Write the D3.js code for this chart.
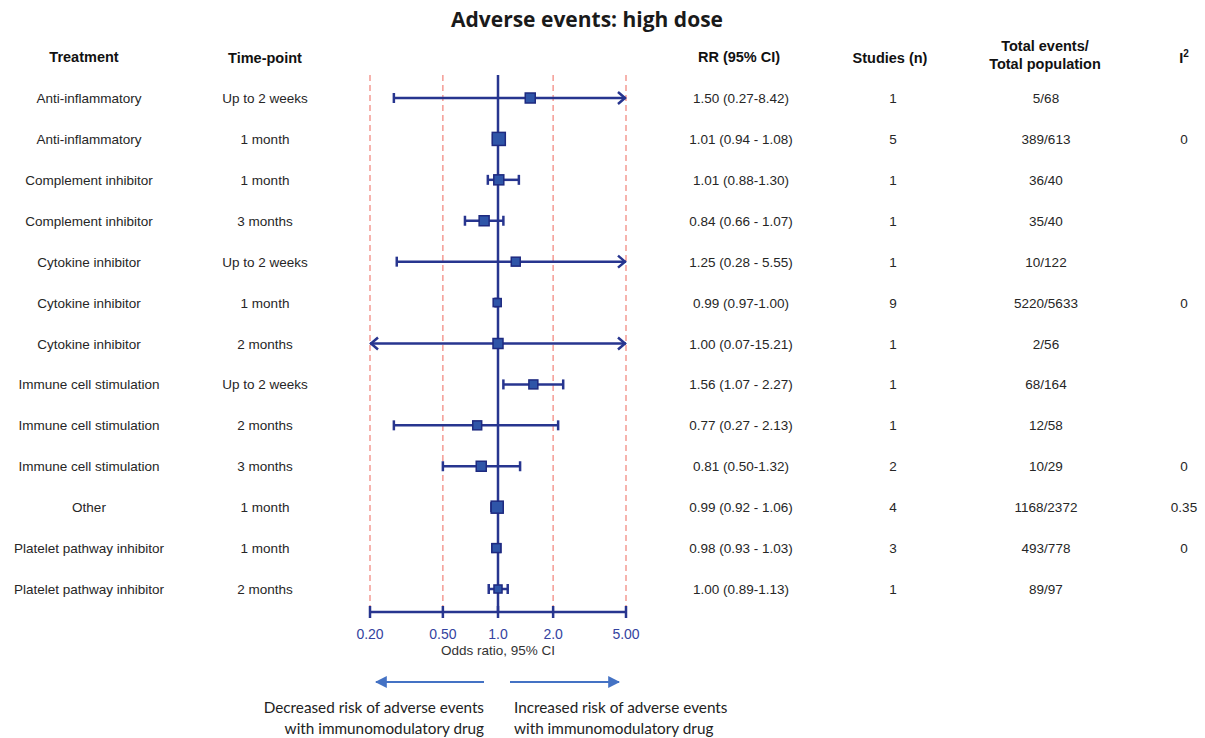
<!DOCTYPE html>
<html>
<head>
<meta charset="utf-8">
<script src="https://cdn.jsdelivr.net/npm/d3@7"></script>
<style>
  html, body { margin: 0; padding: 0; background: #fff; }
  svg { display: block; }
  .sans { font-family: Arial, "Liberation Sans", Helvetica, sans-serif; }
</style>
</head>
<body>
<svg id="chart" width="1205" height="738"></svg>
<script>
// Forest plot: adverse events, high dose
const treatments = [
  "Anti-inflammatory", "Anti-inflammatory", "Complement inhibitor", "Complement inhibitor",
  "Cytokine inhibitor", "Cytokine inhibitor", "Cytokine inhibitor",
  "Immune cell stimulation", "Immune cell stimulation", "Immune cell stimulation",
  "Other", "Platelet pathway inhibitor", "Platelet pathway inhibitor"
];
const timepoints = [
  "Up to 2 weeks", "1 month", "1 month", "3 months", "Up to 2 weeks", "1 month", "2 months",
  "Up to 2 weeks", "2 months", "3 months", "1 month", "1 month", "2 months"
];
const rr    = [1.50, 1.01, 1.01, 0.84, 1.25, 0.99, 1.00, 1.56, 0.77, 0.81, 0.99, 0.98, 1.00];
const lower = [0.27, 0.94, 0.88, 0.66, 0.28, 0.97, 0.07, 1.07, 0.27, 0.50, 0.92, 0.93, 0.89];
const upper = [8.42, 1.08, 1.30, 1.07, 5.55, 1.00, 15.21, 2.27, 2.13, 1.32, 1.06, 1.03, 1.13];
const rrLabels = [
  "1.50 (0.27-8.42)", "1.01 (0.94 - 1.08)", "1.01 (0.88-1.30)", "0.84 (0.66 - 1.07)",
  "1.25 (0.28 - 5.55)", "0.99 (0.97-1.00)", "1.00 (0.07-15.21)", "1.56 (1.07 - 2.27)",
  "0.77 (0.27 - 2.13)", "0.81 (0.50-1.32)", "0.99 (0.92 - 1.06)", "0.98 (0.93 - 1.03)",
  "1.00 (0.89-1.13)"
];
const studies = ["1", "5", "1", "1", "1", "9", "1", "1", "1", "2", "4", "3", "1"];
const totals = ["5/68", "389/613", "36/40", "35/40", "10/122", "5220/5633", "2/56",
  "68/164", "12/58", "10/29", "1168/2372", "493/778", "89/97"];
const iSquared = ["", "0", "", "", "", "0", "", "", "", "0", "0.35", "0", ""];
// relative pooled weight of each estimate (sets marker area)
const weights = [1.0, 1.7, 1.0, 1.0, 0.8, 0.65, 1.0, 0.8, 0.8, 1.0, 1.45, 0.8, 0.65];
const tickValues = [0.2, 0.5, 1.0, 2.0, 5.0];
const tickLabels = ["0.20", "0.50", "1.0", "2.0", "5.00"];

const svg = d3.select("#chart");
const navy = "#27358f";
const markFill = "#2f55a8";
const textCol = "#262626";

const x = d3.scaleLog().domain([0.2, 5]).range([370, 626]);
const y = d3.scalePoint().domain(d3.range(rr.length)).range([98, 589]);
const size = d3.scaleSqrt().domain([0, 1]).range([0, 10]);
const plotTop = 75, axisY = 612;

// Title
svg.append("text")
  .attr("x", 587).attr("y", 27)
  .attr("text-anchor", "middle")
  .style("font-family", "'Open Sans', sans-serif")
  .style("font-weight", "700").style("font-size", "21px")
  .attr("fill", "#1a1a1a")
  .text("Adverse events: high dose");

// Column headers
const headers = [
  { t: "Treatment", x: 84, y: 62 },
  { t: "Time-point", x: 265, y: 63 },
  { t: "RR (95% CI)", x: 739, y: 62 },
  { t: "Studies (n)", x: 890, y: 63 },
  { t: "Total events/", x: 1045, y: 51 },
  { t: "Total population", x: 1045, y: 69 }
];
svg.append("g").selectAll("text").data(headers).join("text")
  .attr("class", "sans")
  .attr("x", d => d.x).attr("y", d => d.y)
  .attr("text-anchor", "middle")
  .style("font-weight", "700").style("font-size", "14.5px")
  .attr("fill", "#111")
  .text(d => d.t);
const i2 = svg.append("text")
  .attr("class", "sans")
  .attr("x", 1184).attr("y", 63)
  .attr("text-anchor", "middle")
  .style("font-weight", "700").style("font-size", "14.5px")
  .attr("fill", "#111");
i2.append("tspan").text("I");
i2.append("tspan").attr("dy", -6).style("font-size", "10px").text("2");

// Table columns
const cols = [
  { vals: treatments, x: 89 },
  { vals: timepoints, x: 265 },
  { vals: rrLabels, x: 741 },
  { vals: studies, x: 893 },
  { vals: totals, x: 1046 },
  { vals: iSquared, x: 1184 }
];
cols.forEach(c => {
  svg.append("g").selectAll("text").data(c.vals).join("text")
    .attr("class", "sans")
    .attr("x", c.x).attr("y", (d, i) => y(i) + 5)
    .attr("text-anchor", "middle")
    .style("font-size", "13.5px")
    .attr("fill", textCol)
    .text(d => d);
});

// Dashed reference lines
svg.append("g").selectAll("line").data(tickValues.filter(v => v !== 1)).join("line")
  .attr("x1", d => x(d)).attr("x2", d => x(d))
  .attr("y1", plotTop).attr("y2", axisY)
  .attr("stroke", "#f28b82").attr("stroke-width", 1.3)
  .attr("stroke-dasharray", "6,4");

// Line of no effect
svg.append("line")
  .attr("x1", x(1)).attr("x2", x(1))
  .attr("y1", plotTop).attr("y2", axisY)
  .attr("stroke", navy).attr("stroke-width", 2.5);

// Axis
const axis = svg.append("g");
axis.append("line")
  .attr("x1", x(0.2)).attr("x2", x(5))
  .attr("y1", axisY).attr("y2", axisY)
  .attr("stroke", navy).attr("stroke-width", 2.5);
axis.selectAll("line.tick").data(tickValues).join("line")
  .attr("class", "tick")
  .attr("x1", d => x(d)).attr("x2", d => x(d))
  .attr("y1", axisY - 6).attr("y2", axisY + 6)
  .attr("stroke", navy).attr("stroke-width", 2.5);
axis.selectAll("text").data(tickValues).join("text")
  .attr("class", "sans")
  .attr("x", d => x(d)).attr("y", 639)
  .attr("text-anchor", "middle")
  .style("font-size", "14px")
  .attr("fill", "#3443a0")
  .text((d, i) => tickLabels[i]);
svg.append("text")
  .attr("class", "sans")
  .attr("x", x(1)).attr("y", 655)
  .attr("text-anchor", "middle")
  .style("font-size", "13.5px")
  .attr("fill", "#333")
  .text("Odds ratio, 95% CI");

// Confidence intervals
const lo = x.domain()[0], hi = x.domain()[1];
const ci = svg.append("g");
rr.forEach((v, i) => {
  const yy = y(i);
  const l = Math.max(lower[i], lo), u = Math.min(upper[i], hi);
  ci.append("line")
    .attr("x1", x(l)).attr("x2", x(u))
    .attr("y1", yy).attr("y2", yy)
    .attr("stroke", navy).attr("stroke-width", 2.5);
  // left end
  if (lower[i] < lo) {
    ci.append("path")
      .attr("d", `M${x(lo) + 8},${yy - 6} L${x(lo) + 1},${yy} L${x(lo) + 8},${yy + 6}`)
      .attr("fill", "none").attr("stroke", navy).attr("stroke-width", 2.5);
  } else {
    ci.append("line")
      .attr("x1", x(l)).attr("x2", x(l)).attr("y1", yy - 5).attr("y2", yy + 5)
      .attr("stroke", navy).attr("stroke-width", 2.5);
  }
  // right end
  if (upper[i] > hi) {
    ci.append("path")
      .attr("d", `M${x(hi) - 8},${yy - 6} L${x(hi) - 1},${yy} L${x(hi) - 8},${yy + 6}`)
      .attr("fill", "none").attr("stroke", navy).attr("stroke-width", 2.5);
  } else {
    ci.append("line")
      .attr("x1", x(u)).attr("x2", x(u)).attr("y1", yy - 5).attr("y2", yy + 5)
      .attr("stroke", navy).attr("stroke-width", 2.5);
  }
});

// Point estimates
svg.append("g").selectAll("rect").data(rr).join("rect")
  .attr("x", (d, i) => x(d) - size(weights[i]) / 2)
  .attr("y", (d, i) => y(i) - size(weights[i]) / 2)
  .attr("width", (d, i) => size(weights[i]))
  .attr("height", (d, i) => size(weights[i]))
  .attr("fill", markFill).attr("stroke", "#1e2a80").attr("stroke-width", 1.5);

// Direction arrows
const arrowCol = "#4472c4";
const defs = svg.append("defs");
defs.append("marker")
  .attr("id", "tri").attr("viewBox", "0 0 10 10")
  .attr("refX", 9).attr("refY", 5)
  .attr("markerWidth", 6).attr("markerHeight", 6)
  .attr("markerUnits", "strokeWidth")
  .attr("orient", "auto")
  .append("path").attr("d", "M0,0 L10,5 L0,10 Z").attr("fill", arrowCol);
svg.append("line")
  .attr("x1", 484).attr("x2", 376).attr("y1", 682).attr("y2", 682)
  .attr("stroke", arrowCol).attr("stroke-width", 2)
  .attr("marker-end", "url(#tri)");
svg.append("line")
  .attr("x1", 510).attr("x2", 619).attr("y1", 682).attr("y2", 682)
  .attr("stroke", arrowCol).attr("stroke-width", 2)
  .attr("marker-end", "url(#tri)");

const notes = [
  { t: "Decreased risk of adverse events", x: 484, y: 713, a: "end" },
  { t: "with immunomodulatory drug", x: 484, y: 734, a: "end" },
  { t: "Increased risk of adverse events", x: 514, y: 713, a: "start" },
  { t: "with immunomodulatory drug", x: 514, y: 734, a: "start" }
];
svg.append("g").selectAll("text").data(notes).join("text")
  .attr("x", d => d.x).attr("y", d => d.y)
  .attr("text-anchor", d => d.a)
  .style("font-family", "Lato, 'Open Sans', sans-serif").style("font-size", "15.3px")
  .attr("fill", "#222")
  .text(d => d.t);
</script>
</body>
</html>
